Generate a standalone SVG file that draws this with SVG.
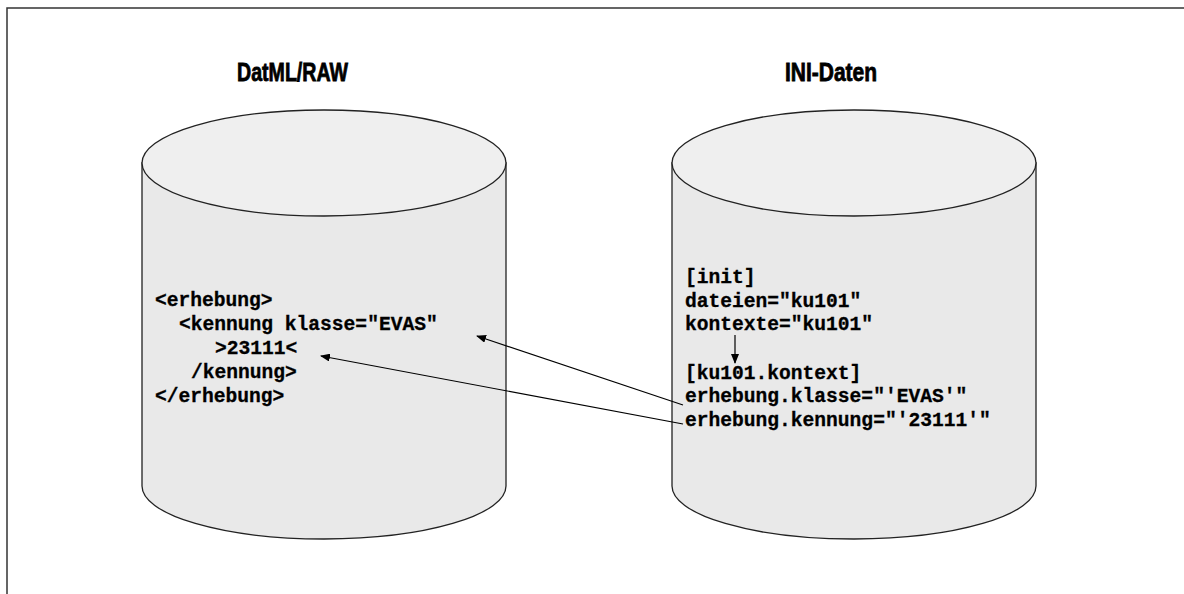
<svg xmlns="http://www.w3.org/2000/svg" width="1184" height="594" viewBox="0 0 1184 594">
<style>
.frame{fill:none;stroke:#333;stroke-width:1.5}
.body{fill:#e9e9e9;stroke:#222;stroke-width:1.3}
.lid{fill:#efefef;stroke:#222;stroke-width:1.3}
.title{font-family:"Liberation Sans",Arial,sans-serif;font-weight:bold;font-size:25px;fill:#000;stroke:#000;stroke-width:0.8}
.code{font-family:"Liberation Mono","Courier New",monospace;font-weight:bold;font-size:19.6px;fill:#000;stroke:#000;stroke-width:0.3}
.conn{fill:none;stroke:#000;stroke-width:1.2}
</style>
<defs>
<marker id="ah" markerUnits="userSpaceOnUse" markerWidth="10" markerHeight="8" refX="9" refY="4" orient="auto">
<path d="M0,0 L10,4 L0,8 Z" fill="#000"/>
</marker>
</defs>
<rect width="1184" height="594" fill="#fff"/>
<path class="frame" d="M7,594 V8 H1184"/>
<g id="node-datml">
<path class="body" d="M142,163 V486 A182,53 0 0 0 506,486 V163 Z"/>
<ellipse class="lid" cx="324" cy="163" rx="182" ry="53"/>
<text class="title" x="237" y="81" textLength="111" lengthAdjust="spacingAndGlyphs">DatML/RAW</text>
<text class="code" x="155" y="306">&lt;erhebung&gt;</text>
<text class="code" x="179" y="330">&lt;kennung klasse="EVAS"</text>
<text class="code" x="215" y="354">&gt;23111&lt;</text>
<text class="code" x="191" y="378">/kennung&gt;</text>
<text class="code" x="155" y="402">&lt;/erhebung&gt;</text>
</g>
<g id="node-ini">
<path class="body" d="M672,163 V486 A182,53 0 0 0 1036,486 V163 Z"/>
<ellipse class="lid" cx="854" cy="163" rx="182" ry="53"/>
<text class="title" x="785" y="81" textLength="92" lengthAdjust="spacingAndGlyphs">INI-Daten</text>
<text class="code" x="685" y="283">[init]</text>
<text class="code" x="685" y="307">dateien="ku101"</text>
<text class="code" x="685" y="330">kontexte="ku101"</text>
<text class="code" x="685" y="379">[ku101.kontext]</text>
<text class="code" x="685" y="402">erhebung.klasse="'EVAS'"</text>
<text class="code" x="685" y="426">erhebung.kennung="'23111'"</text>
</g>
<g id="connectors">
<line class="conn" x1="735" y1="335" x2="735" y2="363" marker-end="url(#ah)"/>
<line class="conn" x1="683" y1="405" x2="477" y2="336" marker-end="url(#ah)"/>
<line class="conn" x1="683" y1="424" x2="321" y2="356" marker-end="url(#ah)"/>
</g>
</svg>
